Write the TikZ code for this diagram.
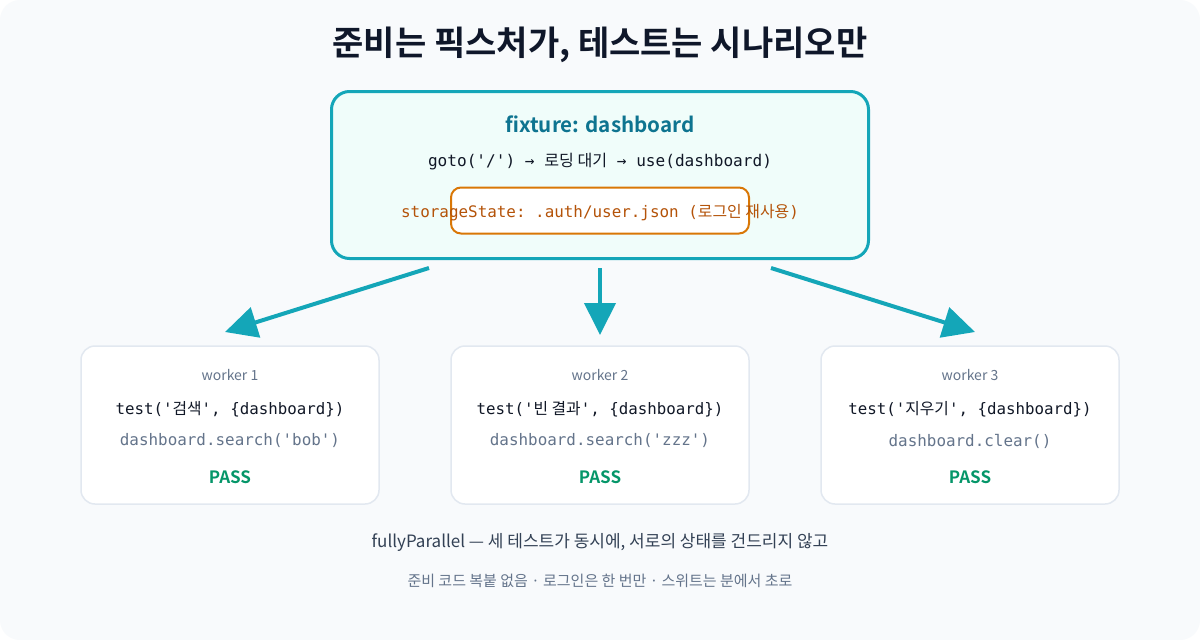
\documentclass[tikz,border=0pt]{standalone}
\usepackage{fontspec}
\setmainfont{Noto Sans CJK KR}[BoldFont={Noto Sans CJK KR Bold}]
\newfontfamily\kr{Noto Sans CJK KR}
\setmonofont{DejaVu Sans Mono}
\usetikzlibrary{arrows.meta}
\definecolor{bgc}{HTML}{F8FAFC}
\definecolor{titlec}{HTML}{0F172A}
\definecolor{tealc}{HTML}{14A6B8}
\definecolor{fixfill}{HTML}{F0FDFA}
\definecolor{fixtext}{HTML}{0E7490}
\definecolor{orangec}{HTML}{D97706}
\definecolor{orangetext}{HTML}{B45309}
\definecolor{wborder}{HTML}{E2E8F0}
\definecolor{slatec}{HTML}{64748B}
\definecolor{darkc}{HTML}{111827}
\definecolor{passc}{HTML}{059669}
\definecolor{notec}{HTML}{334155}
\newcommand\K[1]{{\kr #1}}
\newcommand\fs[1]{\fontsize{#1}{#1}\selectfont}
\begin{document}
\begin{tikzpicture}[x=1pt,y=-1pt,
  fixbox/.style={draw=tealc, line width=3pt, fill=fixfill, rounded corners=18pt, minimum width=537pt, minimum height=167pt, inner sep=0pt},
  storebox/.style={draw=orangec, line width=2pt, fill=white, rounded corners=10pt, minimum width=298pt, minimum height=46pt, inner sep=0pt},
  wbox/.style={draw=wborder, line width=1.5pt, fill=white, rounded corners=14pt, minimum width=298pt, minimum height=158pt, inner sep=0pt},
  txt/.style={inner sep=0pt, anchor=center},
  wlabel/.style={txt, text=slatec, font=\fs{14}},
  codeline/.style={txt, text=darkc, font=\ttfamily\fs{15.8}},
  subcode/.style={txt, text=slatec, font=\ttfamily\fs{15.9}},
  pass/.style={txt, text=passc, font=\bfseries\fs{17}},
  arr/.style={draw=tealc, line width=4pt, -{Triangle[length=32pt,width=31pt]}}
]
\useasboundingbox (0,0) rectangle (1200,640);
\fill[white] (0,0) rectangle (1200,640);
\fill[bgc, rounded corners=20pt] (0,0) rectangle (1200,640);

\node[txt, text=titlec, font=\bfseries\fs{34}] (title) at (600,45) {준비는 픽스처가, 테스트는 시나리오만};

\node[fixbox] (fix) at (600,175) {};
\node[txt, text=fixtext, font=\bfseries\fs{20.6}] (fixt) at (600,124) {fixture: dashboard};
\node[txt, text=darkc, font=\ttfamily\fs{16.1}] (fixc) at (600,162) {goto('/') → \K{로딩 대기} → use(dashboard)};
\node[storebox] (store) at (600,210.5) {};
\node[txt, text=orangetext, font=\ttfamily\fs{15.9}] (storet) at (600,213) {storageState: .auth/user.json (\K{로그인 재사용})};

\node[wbox] (w1) at (230,425) {};
\node[wbox] (w2) at (600,425) {};
\node[wbox] (w3) at (970,425) {};

\node[wlabel] (w1l) at (230,375) {worker 1};
\node[codeline] (w1c) at (230,409) {test('\K{검색}', \{dashboard\})};
\node[subcode] (w1s) at (230,441) {dashboard.search('bob')};
\node[pass] (w1p) at (230,477) {PASS};

\node[wlabel] (w2l) at (600,375) {worker 2};
\node[codeline] (w2c) at (600,409) {test('\K{빈 결과}', \{dashboard\})};
\node[subcode] (w2s) at (600,441) {dashboard.search('zzz')};
\node[pass] (w2p) at (600,477) {PASS};

\node[wlabel] (w3l) at (970,375) {worker 3};
\node[codeline] (w3c) at (970,409) {test('\K{지우기}', \{dashboard\})};
\node[subcode] (w3s) at (970,441) {dashboard.clear()};
\node[pass] (w3p) at (970,477) {PASS};

\coordinate (a1s) at (429,268);
\coordinate (a1e) at (225,332);
\coordinate (a2s) at (600,268);
\coordinate (a2e) at (600,335);
\coordinate (a3s) at (771,268);
\coordinate (a3e) at (975,332);
\draw[arr] (a1s) -- (a1e);
\draw[arr] (a2s) -- (a2e);
\draw[arr] (a3s) -- (a3e);

\node[txt, text=notec, font=\fs{17}] (note1) at (600,542) {fullyParallel — 세 테스트가 동시에, 서로의 상태를 건드리지 않고};
\node[txt, text=slatec, font=\fs{15}] (note2) at (600,581) {준비 코드 복붙 없음 · 로그인은 한 번만 · 스위트는 분에서 초로};
\end{tikzpicture}
\end{document}
